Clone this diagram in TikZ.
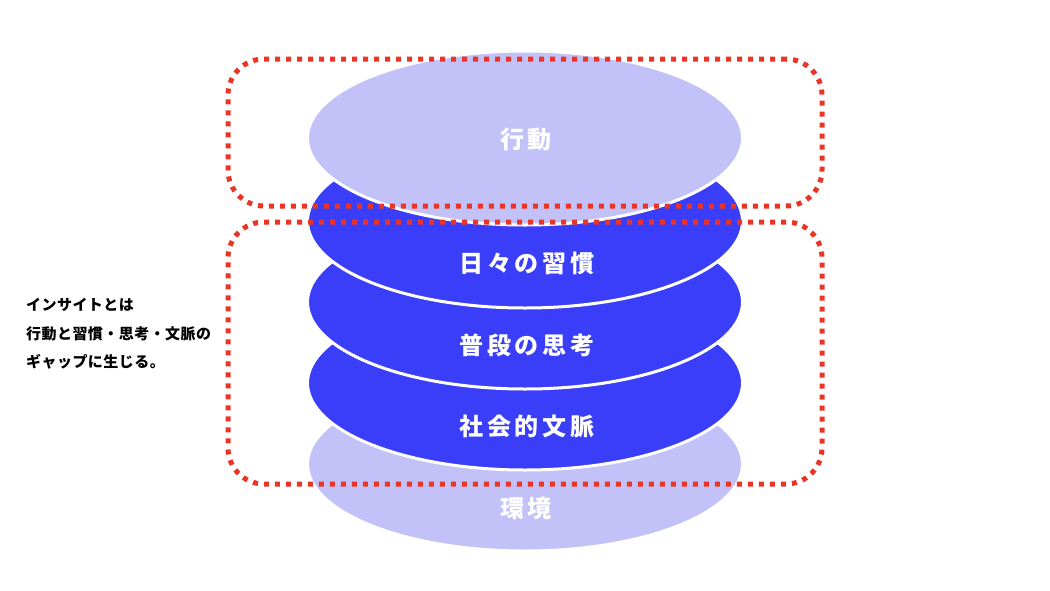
\documentclass[tikz,border=0pt]{standalone}
\usepackage{fontspec}
\usetikzlibrary{shapes.geometric}
\newfontfamily\jpbig{Noto Sans CJK JP}[LetterSpace=15]
\newfontfamily\jpsmall{Noto Sans CJK JP}[LetterSpace=3]
\definecolor{lightlav}{HTML}{C2C2F8}
\definecolor{deepblue}{HTML}{3A3EF8}
\definecolor{dotred}{HTML}{EA3526}
\tikzset{
  disc/.style={ellipse, minimum width=435pt, minimum height=174pt, inner sep=0pt, draw=white, line width=3pt},
  lightdisc/.style={disc, fill=lightlav},
  darkdisc/.style={disc, fill=deepblue},
  disclabel/.style={text=white, font=\jpbig\bfseries\fontsize{24pt}{28pt}\selectfont, inner sep=0pt},
  redbox/.style={draw=dotred, line width=5pt, dash pattern=on 5pt off 6pt, rounded corners=36pt, minimum width=594pt, inner sep=0pt},
  sidetext/.style={font=\jpsmall\bfseries\fontsize{15pt}{18pt}\selectfont, text=black, anchor=west, inner sep=0pt}
}
\begin{document}
\begin{tikzpicture}[x=1pt,y=-1pt]
\useasboundingbox (0,0) rectangle (1050,590);
\node[lightdisc] (env) at (525,464) {};
\node[darkdisc] (ctx) at (525,383) {};
\node[darkdisc] (think) at (525,302) {};
\node[darkdisc] (habit) at (525,221) {};
\node[lightdisc] (act) at (525,138) {};
\node[disclabel] (lact) at (526,139) {行動};
\node[disclabel] (lhabit) at (527,263) {日々の習慣};
\node[disclabel] (lthink) at (527,345) {普段の思考};
\node[disclabel] (lctx) at (527,426) {社会的文脈};
\node[disclabel] (lenv) at (526,508) {環境};
\node[redbox, minimum height=147pt] (boxtop) at (525,132.5) {};
\node[redbox, minimum height=262pt] (boxbot) at (525,353) {};
\node[sidetext] (t1) at (26,305) {インサイトとは};
\node[sidetext] (t2) at (26,334) {行動と習慣・思考・文脈の};
\node[sidetext] (t3) at (26,362) {ギャップに生じる。};
\end{tikzpicture}
\end{document}
